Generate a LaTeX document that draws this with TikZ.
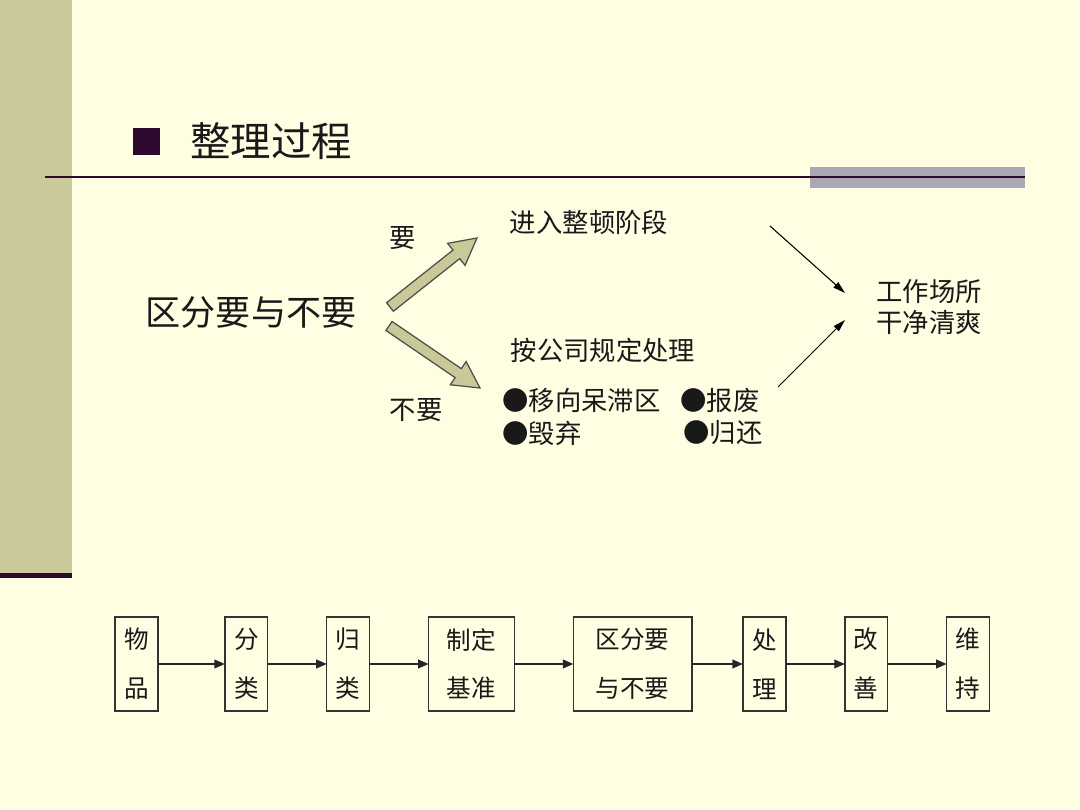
\documentclass[tikz,border=0pt]{standalone}
\usepackage{fontspec}
\setmainfont{Noto Sans CJK SC}
\usepackage{xcolor}
\usetikzlibrary{arrows.meta,positioning,calc}

\definecolor{pagebg}{RGB}{255,253,226}
\definecolor{barolive}{RGB}{201,201,153}
\definecolor{darkplum}{RGB}{45,10,45}
\definecolor{bargray}{RGB}{170,168,180}
\definecolor{arrfill}{RGB}{200,200,152}

% fat block arrow from tail #1 to tip #2
\newcommand{\fatarrow}[2]{%
  \coordinate (#2h) at ($(#2)!15pt!(#1)$);
  \draw[fatarr] ($(#1)!3.1pt!90:(#2)$) -- ($(#2h)!3.1pt!90:(#2)$)
    -- ($(#2h)!8pt!90:(#2)$) -- (#2) -- ($(#2h)!8pt!-90:(#2)$)
    -- ($(#2h)!3.1pt!-90:(#2)$) -- ($(#1)!3.1pt!-90:(#2)$) -- cycle;}

\begin{document}
\begin{tikzpicture}[x=0.02cm, y=-0.02cm,
      txt/.style={inner sep=0pt, text=black!90, font=\fontsize{15pt}{17.6pt}\selectfont, align=center},
      stepbox/.style={draw=black!80, line width=0.8pt, minimum height=53.3pt, inner sep=0pt, outer sep=0pt,
                      text=black!90, font=\fontsize{14pt}{27.8pt}\selectfont, align=center},
      fatarr/.style={draw=black!70, line width=0.7pt, fill=arrfill, line join=miter},
      thinarr/.style={-{Triangle[length=7pt, width=4pt]}, black, line width=0.6pt},
      flowarr/.style={-{Triangle[length=6pt, width=5pt]}, black!85, line width=0.8pt}]
    \fill[pagebg] (0,0) rectangle (1080,810);
    \useasboundingbox (0,0) rectangle (1080,810);
    % side bar and title rule
    \fill[barolive] (0,0) rectangle (72,575);
    \fill[darkplum] (0,573) rectangle (72,578);
    \fill[bargray] (810,167) rectangle (1025,188);
    \draw[darkplum, line width=1.4pt] (45,177) -- (1025,177);
    \node[fill=darkplum, minimum size=15.3pt, inner sep=0pt] (mark) at (146.5,141.5) {};
    \node[inner sep=0pt, anchor=west, text=black!90, font=\fontsize{23pt}{26pt}\selectfont] (title) at (190,141) {整理过程};

    % sorting
    \node[txt, font=\fontsize{20pt}{24pt}\selectfont] (qf) at (251,313) {区分要与不要};
    \node[txt] (yao) at (403,238) {要};
    \node[txt] (buyao) at (416,410) {不要};
    \node[txt] (zhengdun) at (589,222) {进入整顿阶段};
    \node[txt] (guiding) at (603,350) {按公司规定处理};
    \node[txt, anchor=west] (b1) at (502,401) {●移向呆滞区};
    \node[txt, anchor=west] (b2) at (680,401) {●报废};
    \node[txt, anchor=west] (b3) at (502,433) {●毁弃};
    \node[txt, anchor=west] (b4) at (683,433) {●归还};
    \node[txt] (clean) at (929,307) {工作场所\\干净清爽};

    \coordinate (want-tail) at (390,307);
    \coordinate (want-tip) at (477,238);
    \coordinate (waste-tail) at (389,326);
    \coordinate (waste-tip) at (480,388);
    \fatarrow{want-tail}{want-tip}
    \fatarrow{waste-tail}{waste-tip}

    \coordinate (zd-end) at (770,226);
    \coordinate (gd-end) at (778,387);
    \draw[thinarr] (zd-end) -- (845,293);
    \draw[thinarr] (gd-end) -- (845,320);

    % flow of steps
    \node[stepbox, minimum width=24.4pt] (wupin) at (136.5,664) {物\\品};
    \node[stepbox, minimum width=24.4pt, right=1.34cm of wupin] (fenlei) {分\\类};
    \node[stepbox, minimum width=24.4pt, right=1.18cm of fenlei] (guilei) {归\\类};
    \node[stepbox, minimum width=48.8pt, right=1.18cm of guilei] (jizhun) {制定\\基准};
    \node[stepbox, minimum width=67.5pt, right=1.18cm of jizhun] (qufen) {区分要\\与不要};
    \node[stepbox, minimum width=24.4pt, right=1.02cm of qufen] (chuli) {处\\理};
    \node[stepbox, minimum width=24.4pt, right=1.18cm of chuli] (gaishan) {改\\善};
    \node[stepbox, minimum width=24.4pt, right=1.18cm of gaishan] (weichi) {维\\持};
    \draw[flowarr] (wupin) -- (fenlei); \draw[flowarr] (fenlei) -- (guilei);
    \draw[flowarr] (guilei) -- (jizhun); \draw[flowarr] (jizhun) -- (qufen);
    \draw[flowarr] (qufen) -- (chuli); \draw[flowarr] (chuli) -- (gaishan);
    \draw[flowarr] (gaishan) -- (weichi);
  \end{tikzpicture}
\end{document}
